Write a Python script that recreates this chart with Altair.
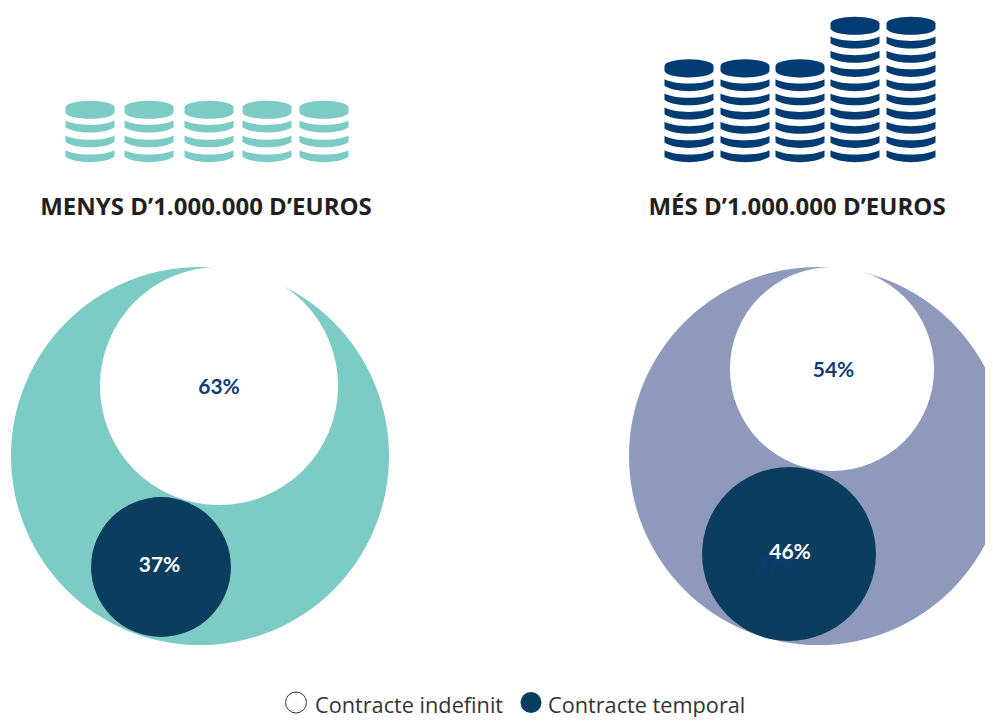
import altair as alt
import pandas as pd

# ---- values ----
panels = ["MENYS D’1.000.000 D’EUROS", "MÉS D’1.000.000 D’EUROS"]
indefinit_share = [63, 54]
temporal_share = [37, 46]
coin_counts = [[4, 4, 4, 4, 4], [7, 7, 7, 10, 10]]
legend_labels = ["Contracte indefinit", "Contracte temporal"]
stray_label = ["37%"]

# ---- layout and style ----
W, H = 977, 709
BIG_D = 378
COIN_W = 49
COIN_STEP = [14.8, 14.2]
COIN_BASE = 156.2
TOP_OFFSET = [2, 2.6]
big_colors = ["#7ccbc5", "#8e99bb"]
coin_colors = ["#7ccbc5", "#033c73"]
DARK = "#0b3d5f"
LABEL_NAVY = "#0d3c74"
TITLE_INK = "#231f20"
big_xy = [(200, 456), (818, 456)]
white_xy = [(219, 386), (832, 369)]
dark_xy = [(161, 567), (789, 554)]
white_lab = [(219, 388), (833.5, 371)]
dark_lab = [(159.5, 566), (790, 553)]
stray_lab = (776.5, 566)
title_xy = [(206, 208), (797, 208)]
stack_x = [[90, 149, 209, 267, 324], [689, 745, 800, 855, 911]]
legend_sym = [(296, 702.5), (531, 702.5)]
legend_txt = [(315, 705.5), (548, 705.5)]

TOP_COIN = "M-1,-0.1 A1,0.27 0 0,1 1,-0.1 L1,0.1 A1,0.27 0 0,1 -1,0.1 Z"
BAND_COIN = "M-1,-0.245 A1.15,0.35 0 0,0 1,-0.245 L1,0.025 A1.15,0.43 0 0,1 -1,0.025 Z"

x_s = alt.Scale(domain=[8, 8 + W])
y_s = alt.Scale(domain=[8 + H, 8])
X = alt.X("x:Q", scale=x_s, axis=None)
Y = alt.Y("y:Q", scale=y_s, axis=None)

circles, labels, top_coins, band_coins = [], [], [], []
labels.append(dict(x=stray_lab[0], y=stray_lab[1], t=stray_label[0], c=LABEL_NAVY))
for i in range(2):
    circles.append(dict(x=big_xy[i][0], y=big_xy[i][1], d=BIG_D, c=big_colors[i], o=0))
    circles.append(dict(x=white_xy[i][0], y=white_xy[i][1], d=BIG_D * indefinit_share[i] / 100, c="#ffffff", o=1))
    circles.append(dict(x=dark_xy[i][0], y=dark_xy[i][1], d=BIG_D * temporal_share[i] / 100, c=DARK, o=2))
    labels.append(dict(x=white_lab[i][0], y=white_lab[i][1], t=f"{indefinit_share[i]}%", c=LABEL_NAVY))
    labels.append(dict(x=dark_lab[i][0], y=dark_lab[i][1], t=f"{temporal_share[i]}%", c="#ffffff"))
    for sx, n in zip(stack_x[i], coin_counts[i]):
        for k in range(n - 1):
            band_coins.append(dict(x=sx, y=COIN_BASE - k * COIN_STEP[i], c=coin_colors[i]))
        top_coins.append(dict(x=sx, y=COIN_BASE - (n - 1) * COIN_STEP[i] - TOP_OFFSET[i], c=coin_colors[i]))

circle_df = pd.DataFrame(circles)
circle_df["s"] = circle_df["d"] ** 2
big = (
    alt.Chart(circle_df)
    .mark_point(filled=True, shape="circle", opacity=1, strokeWidth=0)
    .encode(
        x=X, y=Y,
        size=alt.Size("s:Q", scale=None),
        color=alt.Color("c:N", scale=None),
        order=alt.Order("o:Q"),
    )
)


def coins(rows, path):
    return (
        alt.Chart(pd.DataFrame(rows))
        .mark_point(filled=True, shape=path, size=COIN_W ** 2, opacity=1, strokeWidth=0)
        .encode(x=X, y=Y, color=alt.Color("c:N", scale=None))
    )


pct = (
    alt.Chart(pd.DataFrame(labels))
    .mark_text(font="Lato", fontWeight="bold", fontSize=21, align="center", baseline="middle")
    .encode(x=X, y=Y, text="t:N", color=alt.Color("c:N", scale=None))
)

titles = (
    alt.Chart(pd.DataFrame({"x": [p[0] for p in title_xy], "y": [p[1] for p in title_xy], "t": panels}))
    .mark_text(font="Open Sans", fontWeight="bold", fontSize=24, align="center", baseline="middle", color=TITLE_INK)
    .encode(x=X, y=Y, text="t:N")
)

leg_empty = (
    alt.Chart(pd.DataFrame({"x": [legend_sym[0][0]], "y": [legend_sym[0][1]]}))
    .mark_point(shape="circle", size=21 ** 2, filled=False, color="#333333", strokeWidth=1, opacity=1)
    .encode(x=X, y=Y)
)
leg_full = (
    alt.Chart(pd.DataFrame({"x": [legend_sym[1][0]], "y": [legend_sym[1][1]]}))
    .mark_point(shape="circle", size=21 ** 2, filled=True, color=DARK, strokeWidth=0, opacity=1)
    .encode(x=X, y=Y)
)
leg_text = (
    alt.Chart(pd.DataFrame({"x": [p[0] for p in legend_txt], "y": [p[1] for p in legend_txt], "t": legend_labels}))
    .mark_text(font="Open Sans", fontSize=21.7, align="left", baseline="middle", color="#333333")
    .encode(x=X, y=Y, text="t:N")
)

chart = (
    alt.layer(big, coins(band_coins, BAND_COIN), coins(top_coins, TOP_COIN), pct, titles, leg_empty, leg_full, leg_text)
    .properties(width=W, height=H, padding=0, background="#ffffff", autosize=alt.AutoSizeParams(type="none"))
    .configure_view(strokeWidth=0)
)
chart.save("out.html", embed_options={"renderer": "svg", "actions": False})
